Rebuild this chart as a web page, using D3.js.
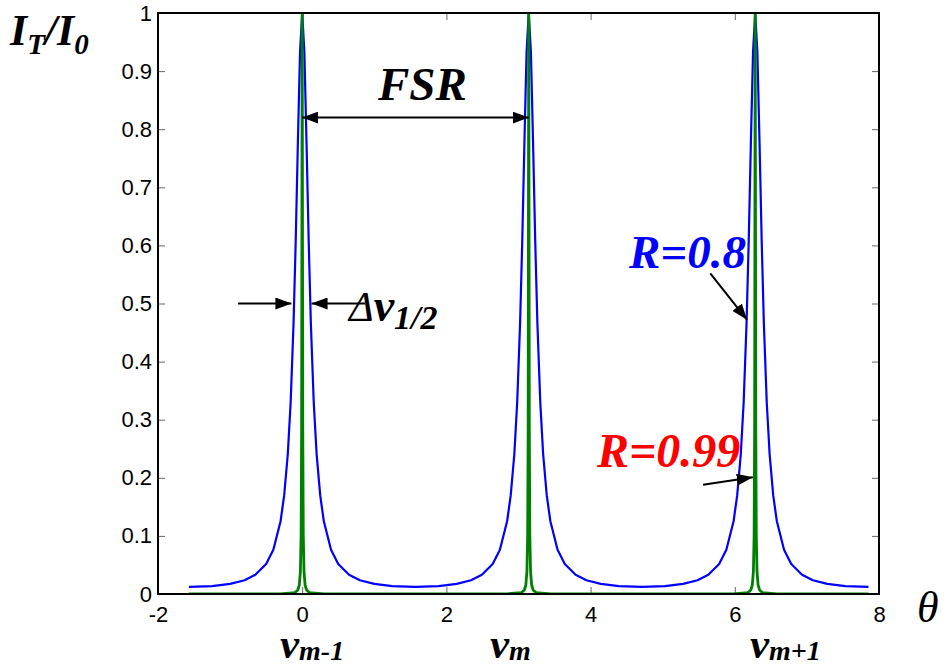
<!DOCTYPE html>
<html lang="en">
<head>
<meta charset="UTF-8">
<title>Fabry-Perot transmission</title>
<script src="https://cdn.jsdelivr.net/npm/d3@7/dist/d3.min.js"></script>
<style>
  body { margin:0; background:#fff; }
  .tick text { font-family:"Liberation Sans", Arial, sans-serif; font-size:22px; fill:#000; }
  .lbl { font-family:"Liberation Serif", "Times New Roman", serif; font-weight:bold; font-style:italic; }
</style>
</head>
<body>
<div id="grafica"></div>
<script>
// values (theta, I_T/I_0)
blueX = [-1.571,-1.25,-1.0,-0.8,-0.65,-0.5,-0.4,-0.3,-0.25,-0.2,-0.16,-0.12,-0.09,-0.06,-0.03,
  0,0.03,0.06,0.09,0.12,0.16,0.2,0.25,0.3,0.4,0.5,0.65,0.8,1.0,1.25,
  1.571,1.892,2.142,2.342,2.492,2.642,2.742,2.842,2.892,2.942,2.982,3.022,3.052,3.082,3.112,
  3.142,3.172,3.202,3.232,3.262,3.302,3.342,3.392,3.442,3.542,3.642,3.792,3.942,4.142,4.392,
  4.712,5.033,5.283,5.483,5.633,5.783,5.883,5.983,6.033,6.083,6.123,6.163,6.193,6.223,6.253,
  6.283,6.313,6.343,6.373,6.403,6.443,6.483,6.533,6.583,6.683,6.783,6.933,7.083,7.283,7.533,7.854]
blueY = [0.0124,0.0137,0.0174,0.0237,0.033,0.0516,0.0762,0.1252,0.1696,0.2405,0.330,0.4659,0.6074,0.7766,0.9328,
  1,0.9328,0.7766,0.6074,0.4659,0.330,0.2405,0.1696,0.1252,0.0762,0.0516,0.033,0.0237,0.0174,0.0137,
  0.0124,0.0137,0.0174,0.0237,0.033,0.0516,0.0762,0.1252,0.1696,0.2405,0.330,0.4659,0.6074,0.7766,0.9328,
  1,0.9328,0.7766,0.6074,0.4659,0.330,0.2405,0.1696,0.1252,0.0762,0.0516,0.033,0.0237,0.0174,0.0137,
  0.0124,0.0137,0.0174,0.0237,0.033,0.0516,0.0762,0.1252,0.1696,0.2405,0.330,0.4659,0.6074,0.7766,0.9328,
  1,0.9328,0.7766,0.6074,0.4659,0.330,0.2405,0.1696,0.1252,0.0762,0.0516,0.033,0.0237,0.0174,0.0137,0.0124]

greenX = [-1.571,-0.3,-0.1,-0.06,-0.04,-0.025,-0.015,-0.008,0,0.008,0.015,0.025,0.04,0.06,0.1,0.3,
  1.571,2.842,3.042,3.082,3.102,3.117,3.127,3.134,3.142,3.150,3.157,3.167,3.182,3.202,3.242,3.442,
  4.712,5.983,6.183,6.223,6.243,6.258,6.268,6.275,6.283,6.291,6.298,6.308,6.323,6.343,6.383,6.583,7.854]
greenY = [0.00003,0.0003,0.0025,0.007,0.0155,0.039,0.1009,0.283,1,0.283,0.1009,0.039,0.0155,0.007,0.0025,0.0003,
  0.00003,0.0003,0.0025,0.007,0.0155,0.039,0.1009,0.283,1,0.283,0.1009,0.039,0.0155,0.007,0.0025,0.0003,
  0.00003,0.0003,0.0025,0.007,0.0155,0.039,0.1009,0.283,1,0.283,0.1009,0.039,0.0155,0.007,0.0025,0.0003,0.00003]

xTicks = [-2,0,2,4,6,8]
yTicks = [0,0.1,0.2,0.3,0.4,0.5,0.6,0.7,0.8,0.9,1]

ancho_total = 946
alto_total = 666
margin = {top:13, right:67, bottom:72, left:158}
ancho = ancho_total-margin.left-margin.right
alto = alto_total-margin.top-margin.bottom

svg = d3.select('#grafica').append('svg')
  .attr('width', ancho_total).attr('height', alto_total)

defs = svg.append('defs')
defs.append('marker').attr('id','head')
  .attr('viewBox','0 0 16 12').attr('refX',16).attr('refY',6)
  .attr('markerWidth',16).attr('markerHeight',12)
  .attr('markerUnits','userSpaceOnUse').attr('orient','auto-start-reverse')
  .append('path').attr('d','M0,0L16,6L0,12Z').attr('fill','#000')
defs.append('clipPath').attr('id','clip')
  .append('rect').attr('width', ancho).attr('height', alto)

g = svg.append('g').attr('transform','translate('+margin.left+','+margin.top+')')

x = d3.scaleLinear().domain([-2,8]).range([0,ancho])
y = d3.scaleLinear().domain([0,1]).range([alto,0])

fmt = d => String(d)

g.append('g').attr('transform','translate(0,'+alto+')')
  .call(d3.axisBottom(x).tickValues(xTicks).tickSizeInner(-7).tickSizeOuter(0).tickPadding(12).tickFormat(fmt))
g.append('g')
  .call(d3.axisTop(x).tickValues(xTicks).tickSizeInner(-7).tickSizeOuter(0).tickFormat(''))
g.append('g')
  .call(d3.axisLeft(y).tickValues(yTicks).tickSizeInner(-7).tickSizeOuter(0).tickPadding(6).tickFormat(fmt))
g.append('g').attr('transform','translate('+ancho+',0)')
  .call(d3.axisRight(y).tickValues(yTicks).tickSizeInner(-7).tickSizeOuter(0).tickFormat(''))
g.selectAll('.domain').remove()
g.selectAll('.tick line').attr('stroke','#666')

linea = d3.line().x(d=>x(d[0])).y(d=>y(d[1]))

g.append('path').datum(d3.zip(blueX, blueY))
  .attr('clip-path','url(#clip)')
  .attr('fill','none').attr('stroke','#0000ff').attr('stroke-width',2.2)
  .attr('stroke-linejoin','round').attr('d', linea)
g.append('path').datum(d3.zip(greenX, greenY))
  .attr('clip-path','url(#clip)')
  .attr('fill','none').attr('stroke','#008000').attr('stroke-width',2.8)
  .attr('stroke-linejoin','round').attr('d', linea)

g.append('rect').attr('width', ancho).attr('height', alto)
  .attr('fill','none').attr('stroke','#000').attr('stroke-width',2)

// annotations
function arrow(x1,y1,x2,y2,both) {
  l = g.append('line').attr('x1',x1).attr('y1',y1).attr('x2',x2).attr('y2',y2)
    .attr('stroke','#000').attr('stroke-width',2).attr('marker-end','url(#head)')
  if (both) l.attr('marker-start','url(#head)')
}
arrow(x(0), y(0.82), x(Math.PI), y(0.82), true)
arrow(x(-0.89), y(0.5), x(-0.15), y(0.5))
arrow(x(0.87), y(0.5), x(0.13), y(0.5))
arrow(x(5.66), y(0.552), x(6.17), y(0.472))
arrow(x(5.56), y(0.188), x(6.25), y(0.201))

t = svg.append('text').attr('class','lbl').attr('x',10).attr('y',45).attr('font-size',44)
t.append('tspan').text('I')
t.append('tspan').attr('dy',9).attr('font-size',29).text('T')
t.append('tspan').attr('dy',-9).text('/I')
t.append('tspan').attr('dy',9).attr('font-size',29).text('0')

svg.append('text').attr('class','lbl').attr('x',378).attr('y',100).attr('font-size',47).text('FSR')

t = svg.append('text').attr('class','lbl').attr('x',349).attr('y',321).attr('font-size',42)
t.append('tspan').attr('font-weight','normal').text('Δ')
t.append('tspan').attr('font-size',46).text('ν')
t.append('tspan').attr('dy',8).attr('font-size',34).text('1/2')

svg.append('text').attr('class','lbl').attr('x',629).attr('y',268).attr('font-size',47)
  .attr('fill','#0000ff').text('R=0.8')
svg.append('text').attr('class','lbl').attr('x',597).attr('y',467).attr('font-size',48)
  .attr('fill','#ff0000').text('R=0.99')

function nu(xp, sub) {
  t = svg.append('text').attr('class','lbl').attr('x',xp).attr('y',658).attr('font-size',43)
  t.append('tspan').text('ν')
  t.append('tspan').attr('dy',2).attr('font-size',28).text(sub)
}
nu(280, 'm-1')
nu(490, 'm')
nu(750, 'm+1')

svg.append('text').attr('x',917).attr('y',622).attr('font-size',44)
  .attr('font-family','"Liberation Serif", serif').attr('font-style','italic').text('θ')
</script>
</body>
</html>
